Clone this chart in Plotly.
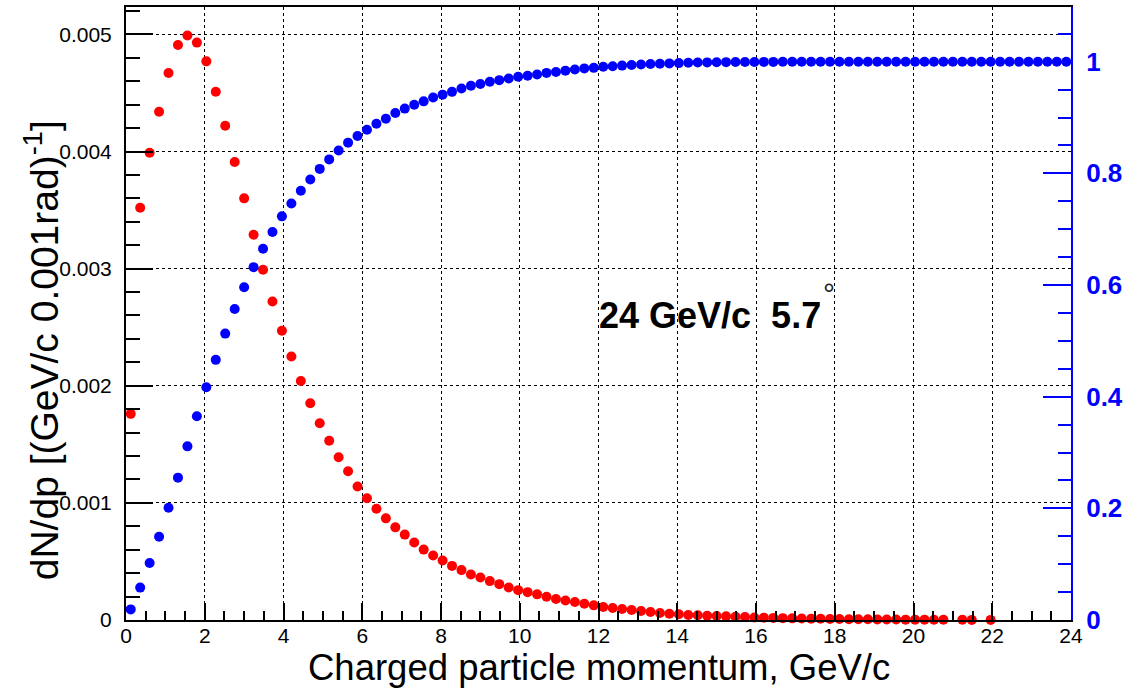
import plotly.graph_objects as go

# Momentum bin centres (GeV/c), 0.24 GeV/c wide bins from 0 to 24
momentum = [
    0.12, 0.36, 0.60, 0.84, 1.08, 1.32, 1.56, 1.80, 2.04, 2.28,
    2.52, 2.76, 3.00, 3.24, 3.48, 3.72, 3.96, 4.20, 4.44, 4.68,
    4.92, 5.16, 5.40, 5.64, 5.88, 6.12, 6.36, 6.60, 6.84, 7.08,
    7.32, 7.56, 7.80, 8.04, 8.28, 8.52, 8.76, 9.00, 9.24, 9.48,
    9.72, 9.96, 10.20, 10.44, 10.68, 10.92, 11.16, 11.40, 11.64, 11.88,
    12.12, 12.36, 12.60, 12.84, 13.08, 13.32, 13.56, 13.80, 14.04, 14.28,
    14.52, 14.76, 15.00, 15.24, 15.48, 15.72, 15.96, 16.20, 16.44, 16.68,
    16.92, 17.16, 17.40, 17.64, 17.88, 18.12, 18.36, 18.60, 18.84, 19.08,
    19.32, 19.56, 19.80, 20.04, 20.28, 20.52, 20.76, 21.00, 21.24, 21.48,
    21.72, 21.96, 22.20, 22.44, 22.68, 22.92, 23.16, 23.40, 23.64, 23.88,
]

# dN/dp per bin (empty bins are None and not drawn)
dndp = [
    0.00176, 0.00352, 0.00399, 0.00434, 0.00467, 0.00491, 0.00499, 0.00493, 0.00477, 0.00451,
    0.00422, 0.00391, 0.00360, 0.00329, 0.00299, 0.00272, 0.00247, 0.00225, 0.00204, 0.00185,
    0.00168, 0.00153, 0.00139, 0.00127, 0.00114, 0.00104, 0.000950, 0.000868, 0.000791, 0.000729,
    0.000661, 0.000601, 0.000550, 0.000508, 0.000462, 0.000426, 0.000389, 0.000363, 0.000332, 0.000306,
    0.000278, 0.000255, 0.000238, 0.000219, 0.000198, 0.000179, 0.000167, 0.000153, 0.000139, 0.000125,
    0.000111, 0.000102, 0.000094, 0.000085, 0.000077, 0.000068, 0.000060, 0.000054, 0.000049, 0.000043,
    0.000040, 0.000037, 0.000034, 0.000031, 0.000028, 0.000025, 0.000022, 0.000020, 0.000018, 0.000016,
    0.000014, 0.000013, 0.000011, 0.000010, 0.000009, 0.000008, 0.000007, 0.000006, 0.000006, 0.000005,
    0.000004, 0.000004, 0.000003, 0.000003, 0.000003, 0.000002, 0.000002, None, 0.000002, 0.000001,
    None, 0.000001, None, None, None, None, None, None, None, None,
]

# Cumulative fraction of particles below p
cumulative = [
    0.019, 0.058, 0.102, 0.149, 0.201, 0.255, 0.311, 0.365, 0.417, 0.466,
    0.513, 0.557, 0.596, 0.632, 0.665, 0.695, 0.723, 0.746, 0.769, 0.789,
    0.808, 0.825, 0.841, 0.855, 0.867, 0.878, 0.889, 0.898, 0.908, 0.916,
    0.923, 0.929, 0.936, 0.941, 0.946, 0.952, 0.957, 0.960, 0.964, 0.967,
    0.970, 0.973, 0.975, 0.977, 0.980, 0.9815, 0.984, 0.986, 0.988, 0.989,
    0.991, 0.992, 0.993, 0.994, 0.995, 0.996, 0.9965, 0.997, 0.9975, 0.998,
    0.9985, 0.9988, 0.999, 0.9992, 0.9994, 0.9995, 0.9996, 0.9997, 0.9997, 0.9998,
    0.9998, 0.9998, 0.9999, 0.9999, 0.9999, 0.9999, 0.9999, 1.0, 1.0, 1.0,
    1.0, 1.0, 1.0, 1.0, 1.0, 1.0, 1.0, 1.0, 1.0, 1.0,
    1.0, 1.0, 1.0, 1.0, 1.0, 1.0, 1.0, 1.0, 1.0, 1.0,
]

FONT = "Liberation Sans, Arial, Helvetica, sans-serif"

fig = go.Figure()

fig.add_trace(go.Scatter(
    x=momentum, y=dndp, mode="markers",
    marker=dict(color="#ff0000", size=10, line=dict(width=0)),
    yaxis="y", showlegend=False, cliponaxis=False,
))
fig.add_trace(go.Scatter(
    x=momentum, y=cumulative, mode="markers",
    marker=dict(color="#0000ff", size=10, line=dict(width=0)),
    yaxis="y2", showlegend=False, cliponaxis=False,
))

fig.update_layout(
    width=1128, height=691,
    margin=dict(l=126, r=52, t=5, b=71),
    paper_bgcolor="white", plot_bgcolor="white",
    font=dict(family=FONT, color="black"),
    xaxis=dict(
        range=[0, 24], tick0=0, dtick=2, zeroline=False,
        showline=True, linecolor="black", linewidth=2, mirror=True,
        ticks="inside", ticklen=17, tickwidth=2, tickcolor="black",
        tickfont=dict(size=21, family=FONT, color="black"),
        ticklabelstandoff=-4,
        showgrid=True, gridcolor="black", gridwidth=1, griddash="dot",
        minor=dict(dtick=0.5, tick0=0, ticks="inside", ticklen=9,
                   tickwidth=2, tickcolor="black", showgrid=False),
    ),
    yaxis=dict(
        range=[0, 0.005234], tick0=0, dtick=0.001, zeroline=False,
        exponentformat="none",
        showline=True, linecolor="black", linewidth=2,
        ticks="inside", ticklen=27, tickwidth=2, tickcolor="black",
        tickfont=dict(size=21, family=FONT, color="black"),
        ticklabelstandoff=8,
        showgrid=True, gridcolor="black", gridwidth=1, griddash="dot",
        minor=dict(dtick=0.0002, tick0=0, ticks="inside", ticklen=14,
                   tickwidth=2, tickcolor="black", showgrid=False),
    ),
    yaxis2=dict(
        overlaying="y", side="right",
        range=[0, 1.098], tick0=0, dtick=0.2, zeroline=False,
        showline=True, linecolor="#0000ff", linewidth=2,
        ticks="inside", ticklen=28, tickwidth=2, tickcolor="#0000ff",
        tickfont=dict(size=26, family=FONT, color="#0000ff", weight="bold"),
        ticklabelstandoff=8,
        showgrid=False,
        minor=dict(dtick=0.05, tick0=0, ticks="inside", ticklen=13,
                   tickwidth=2, tickcolor="#0000ff", showgrid=False),
    ),
    annotations=[
        dict(
            text="Charged particle momentum, GeV/c",
            xref="paper", yref="paper", x=0.5, y=-0.078,
            xanchor="center", yanchor="middle", showarrow=False,
            font=dict(size=36.5, family=FONT, color="black"),
        ),
        dict(
            text="dN/dp [(GeV/c 0.001rad)<sup>-1</sup>]",
            xref="paper", yref="paper", x=-0.09, y=0.44,
            xanchor="center", yanchor="middle", showarrow=False,
            textangle=-90,
            font=dict(size=39, family=FONT, color="black"),
        ),
        dict(
            text="<b>24 GeV/c  5.7</b>",
            xref="x", yref="y", x=11.97, y=0.0026,
            xanchor="left", yanchor="middle", showarrow=False,
            font=dict(size=36, family=FONT, color="black"),
        ),
        dict(
            text="°",
            xref="x", yref="y", x=17.85, y=0.00279,
            xanchor="center", yanchor="middle", showarrow=False,
            font=dict(size=30, family=FONT, color="#222222"),
        ),
    ],
)

fig.write_html("out.html")
